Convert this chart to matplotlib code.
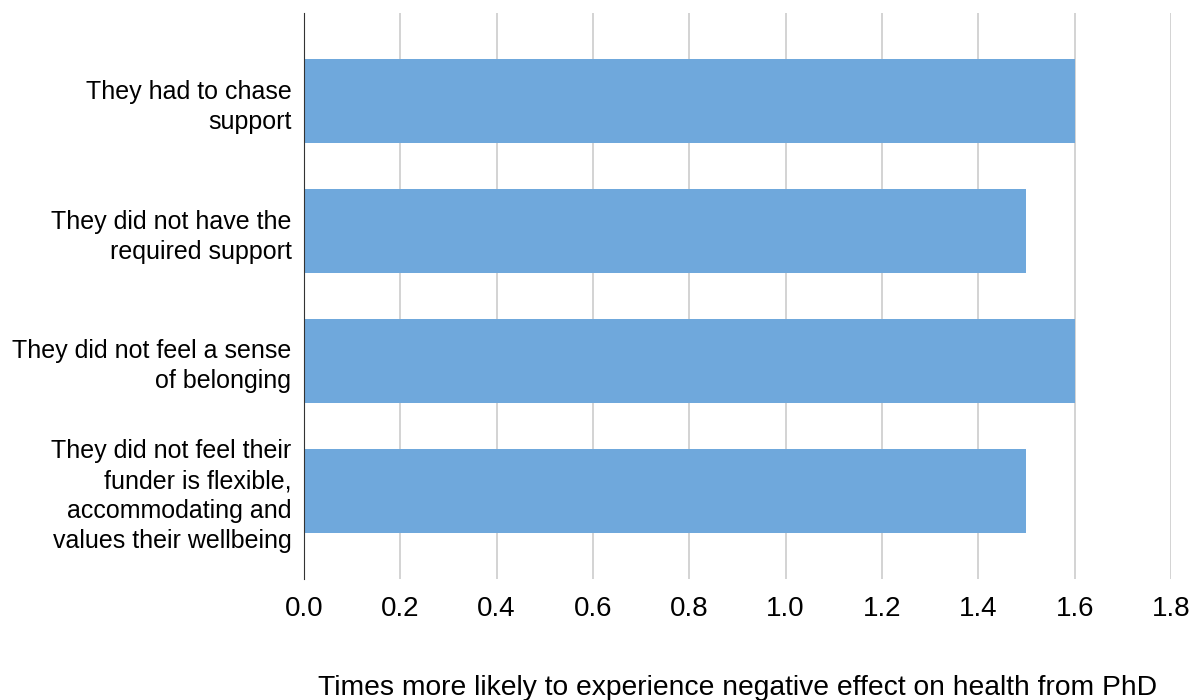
import matplotlib.pyplot as plt

plt.rcParams['font.family'] = ['Liberation Sans', 'DejaVu Sans']

# data
categories = [
    "They had to chase\nsupport",
    "They did not have the\nrequired support",
    "They did not feel a sense\nof belonging",
    "They did not feel their\nfunder is flexible,\naccommodating and\nvalues their wellbeing",
]
values = [1.6, 1.5, 1.6, 1.5]
xticks = [0.0, 0.2, 0.4, 0.6, 0.8, 1.0, 1.2, 1.4, 1.6, 1.8]

fig = plt.figure(figsize=(12, 7), dpi=100)
ax = fig.add_axes([0.2533, 0.1729, 0.9758 - 0.2533, 0.9814 - 0.1729])

pos = list(range(len(categories)))
ax.barh(pos, values, height=0.65, color='#6fa8dc', zorder=3)

ax.set_ylim(3.68, -0.68)
ax.set_xlim(0, 1.8)
ax.set_yticks(pos)
ax.set_yticklabels(categories, fontsize=18, linespacing=1.32)
ax.set_xticks(xticks)
ax.set_xticklabels(["%.1f" % t for t in xticks], fontsize=20)
ax.tick_params(axis='both', length=0)
ax.tick_params(axis='x', pad=12)
ax.tick_params(axis='y', pad=9)

ax.grid(axis='x', color='#cccccc', linewidth=1.2, zorder=0)
for s in ['top', 'right', 'bottom']:
    ax.spines[s].set_visible(False)
ax.spines['left'].set_color('#333333')
ax.spines['left'].set_zorder(4)

fig.text(738 / 1200, 1 - 688 / 700, "Times more likely to experience negative effect on health from PhD",
         fontsize=20.3, ha='center', va='center')

fig.savefig('out.png', dpi=100)
